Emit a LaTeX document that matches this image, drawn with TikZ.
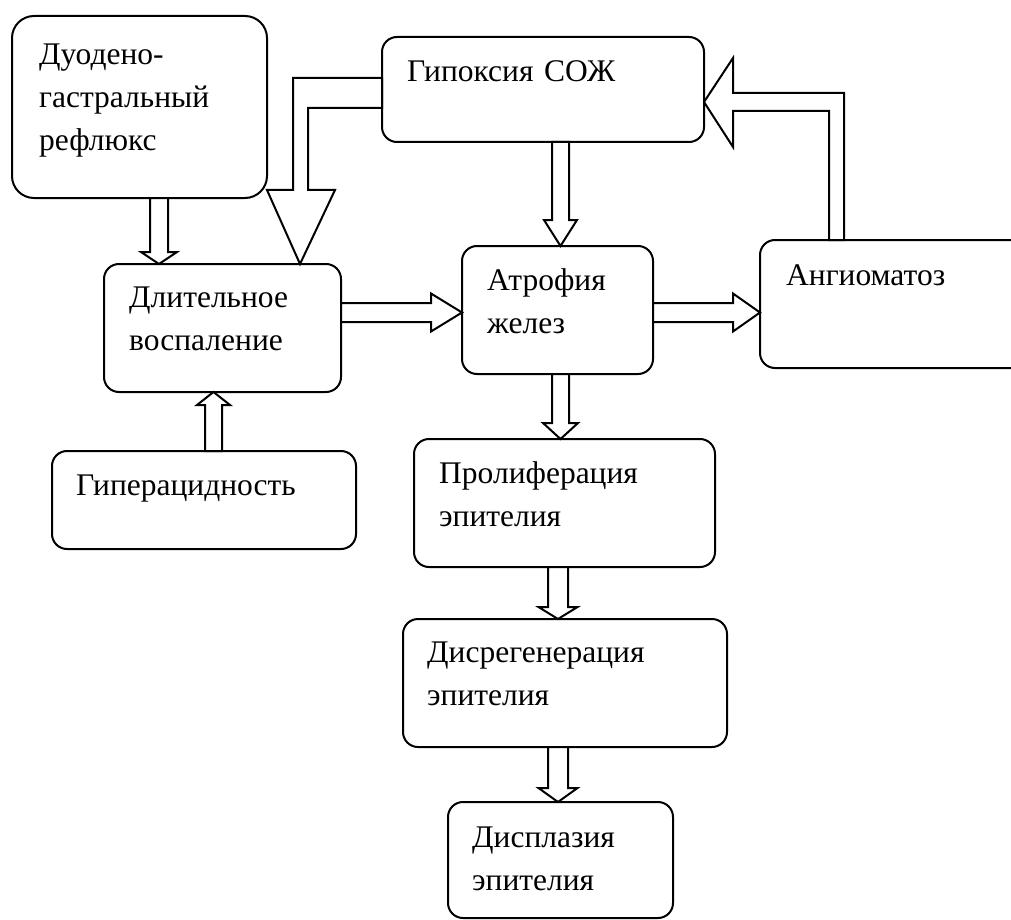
\documentclass[tikz,border=0pt]{standalone}
\usepackage{fontspec}
\setmainfont{Liberation Serif}
\usetikzlibrary{calc}

\tikzset{
  box/.style={draw, line width=2pt, rounded corners=15pt, outer sep=0pt, inner sep=0pt},
  lbl/.style={font=\fontsize{31.5}{43}\selectfont, text width=320pt, align=left, anchor=base west, inner sep=0pt},
  blk/.style={draw, fill=white, line width=2pt, line join=miter},
}

% block arrows: source, target, axis, half shaft, half head, head length
\newcommand{\downblk}[6]{%
  \draw[blk] let \p1=(#1.south), \p2=(#2.north) in
    ({#3-#4},\y1) -- ({#3-#4},{\y2+#6pt}) -- ({#3-#5},{\y2+#6pt}) -- (#3,\y2)
    -- ({#3+#5},{\y2+#6pt}) -- ({#3+#4},{\y2+#6pt}) -- ({#3+#4},\y1) -- cycle;}
\newcommand{\upblk}[6]{%
  \draw[blk] let \p1=(#1.north), \p2=(#2.south) in
    ({#3-#4},\y1) -- ({#3-#4},{\y2-#6pt}) -- ({#3-#5},{\y2-#6pt}) -- (#3,\y2)
    -- ({#3+#5},{\y2-#6pt}) -- ({#3+#4},{\y2-#6pt}) -- ({#3+#4},\y1) -- cycle;}
\newcommand{\rightblk}[6]{%
  \draw[blk] let \p1=(#1.east), \p2=(#2.west) in
    (\x1,{#3-#4}) -- ({\x2-#6pt},{#3-#4}) -- ({\x2-#6pt},{#3-#5}) -- (\x2,#3)
    -- ({\x2-#6pt},{#3+#5}) -- ({\x2-#6pt},{#3+#4}) -- (\x1,{#3+#4}) -- cycle;}

\begin{document}
\begin{tikzpicture}[x=1pt, y=-1pt]
  \useasboundingbox (0,0) rectangle (1011,920);
  \clip (0,0) rectangle (1011,920);

  \node[box, rounded corners=22pt, minimum width=255pt, minimum height=182pt] (duod) at (139.5,107) {};
  \node[box, minimum width=322pt, minimum height=105pt] (hyp) at (543,89.5) {};
  \node[box, minimum width=237pt, minimum height=128pt] (infl) at (222.5,328) {};
  \node[box, minimum width=191pt, minimum height=128pt] (atr) at (557.5,310) {};
  \node[box, minimum width=280pt, minimum height=128pt] (ang) at (900,304) {};
  \node[box, minimum width=304pt, minimum height=98pt] (acid) at (204,500) {};
  \node[box, minimum width=301pt, minimum height=128pt] (prol) at (564.5,503) {};
  \node[box, minimum width=324pt, minimum height=128pt] (dysreg) at (565,683) {};
  \node[box, minimum width=225pt, minimum height=116pt] (dyspl) at (560.5,860) {};

  \node[lbl] (duodtxt) at ($(duod.north west)+(27,49)$) {Дуодено-\\гастральный\\рефлюкс};
  \node[lbl] (hyptxt) at ($(hyp.north west)+(25,45)$) {Гипоксия СОЖ};
  \node[lbl] (infltxt) at ($(infl.north west)+(25,43)$) {Длительное\\воспаление};
  \node[lbl] (atrtxt) at ($(atr.north west)+(25,44)$) {Атрофия\\желез};
  \node[lbl] (angtxt) at ($(ang.north west)+(26,45)$) {Ангиоматоз};
  \node[lbl] (acidtxt) at ($(acid.north west)+(24,44)$) {Гиперацидность};
  \node[lbl] (proltxt) at ($(prol.north west)+(25,44)$) {Пролиферация\\эпителия};
  \node[lbl] (dysregtxt) at ($(dysreg.north west)+(24,43)$) {Дисрегенерация\\эпителия};
  \node[lbl] (dysptxt) at ($(dyspl.north west)+(24,45)$) {Дисплазия\\эпителия};

  \downblk{duod}{infl}{159}{9}{18}{12}
  \downblk{hyp}{atr}{560.5}{8.5}{16.5}{26}
  \downblk{atr}{prol}{560.5}{8.5}{17.5}{16}
  \downblk{prol}{dysreg}{558}{10}{19.5}{12}
  \downblk{dysreg}{dyspl}{558}{10}{19.5}{14}
  \upblk{acid}{infl}{213.5}{8.5}{16.5}{13}
  \rightblk{infl}{atr}{312.5}{9.5}{19}{31}
  \rightblk{atr}{ang}{312.5}{9.5}{19}{27}

  \draw[blk] let \p1=(hyp.west), \p2=(infl.north) in
    (\x1,78) -- (293,78) -- (293,190) -- (267,190) -- (300,\y2)
    -- (335,190) -- (308,190) -- (308,108) -- (\x1,108) -- cycle;
  \draw[blk] let \p1=(ang.north), \p2=(hyp.east) in
    (844,\y1) -- (844,93) -- (733,93) -- (733,58) -- (\x2,102)
    -- (733,147) -- (733,111) -- (829,111) -- (829,\y1) -- cycle;
\end{tikzpicture}
\end{document}
